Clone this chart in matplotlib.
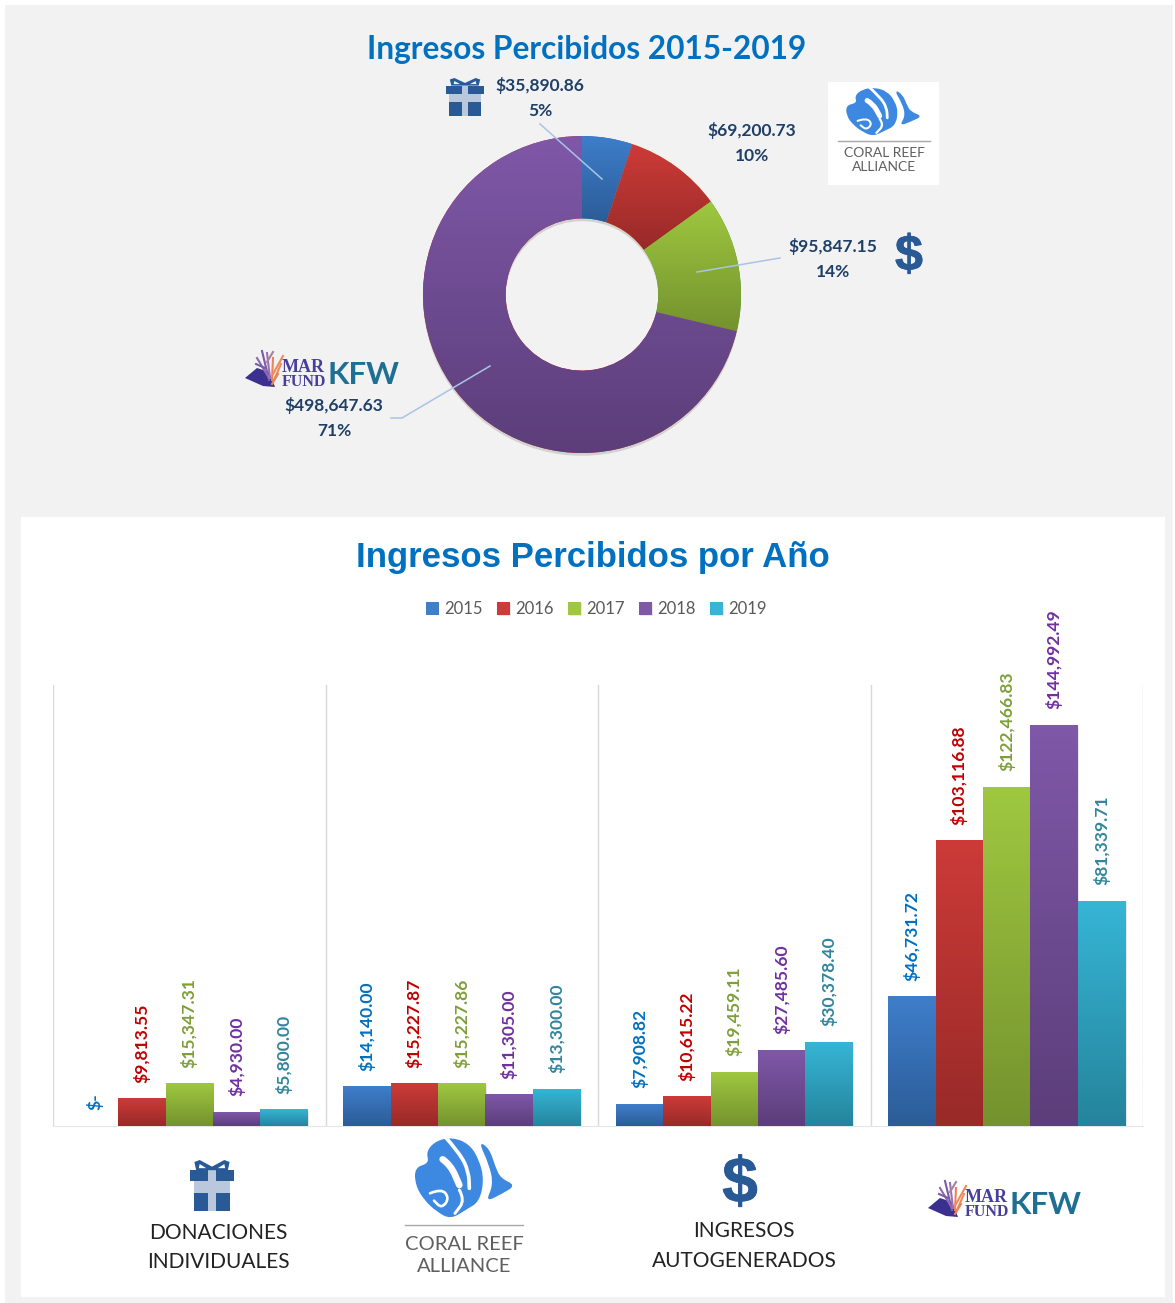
import numpy as np
import matplotlib
matplotlib.use('Agg')
import matplotlib.pyplot as plt
import matplotlib.patheffects as pe
from matplotlib.colors import LinearSegmentedColormap
from matplotlib.patches import Rectangle, PathPatch, Polygon
from matplotlib.path import Path

W, H = 1175, 1303

# Data
years = ['2015', '2016', '2017', '2018', '2019']
donaciones = [0, 9813.55, 15347.31, 4930.00, 5800.00]
coral_reef = [14140.00, 15227.87, 15227.86, 11305.00, 13300.00]
autogenerados = [7908.82, 10615.22, 19459.11, 27485.60, 30378.40]
marfund_kfw = [46731.72, 103116.88, 122466.83, 144992.49, 81339.71]
totales = [35890.86, 69200.73, 95847.15, 498647.63]

title_top = 'Ingresos Percibidos 2015-2019'
title_bottom = 'Ingresos Percibidos por Año'

# Colors
tops = ['#3f7ecb', '#cc3b38', '#9fc840', '#7f58a8', '#36b5d5']
bottoms = ['#2b5c97', '#982a28', '#74922e', '#5c3e7a', '#25849c']
label_colors = ['#0070c0', '#c00000', '#7f9f3a', '#7030a0', '#31859c']
pie_tops = ['#3f7ecb', '#cc3b38', '#9fc840', '#7f58a8']
pie_bottoms = ['#2b5c97', '#982a28', '#74922e', '#5c3e7a']
icon_blue = '#2a5a96'
fish_blue = '#3d88e0'
text_blue = '#0070c0'
pie_text = '#1f3f66'


def px_axes(x0, y0, x1, y1, **kw):
    return fig.add_axes([x0/W, 1 - y1/H, (x1-x0)/W, (y1-y0)/H], **kw)


def overlay():
    a = px_axes(0, 0, W, H)
    a.set_xlim(0, W)
    a.set_ylim(H, 0)
    a.axis('off')
    a.patch.set_alpha(0)
    return a


def gradient(ax, top, bottom, x0, x1, y0, y1, clip=None, z=3):
    cmap = LinearSegmentedColormap.from_list('g', [bottom, top])
    im = ax.imshow(np.linspace(1, 0, 128).reshape(-1, 1), cmap=cmap, vmin=0, vmax=1,
                   extent=[x0, x1, y0, y1], aspect='auto', zorder=z)
    if clip is not None:
        im.set_clip_path(clip)


def smooth(points, closed=True):
    # curve through the midpoints of the points
    pts = np.array(points, dtype=float)
    if closed:
        mids = (pts + np.roll(pts, -1, axis=0))/2
        verts = [mids[-1]]
        codes = [Path.MOVETO]
        for p, m in zip(pts, mids):
            verts += [p, m]
            codes += [Path.CURVE3, Path.CURVE3]
        return Path(verts, codes)
    verts = [pts[0]]
    codes = [Path.MOVETO]
    for p, q in zip(pts[1:-1], pts[2:]):
        verts += [p, (p+q)/2]
        codes += [Path.CURVE3, Path.CURVE3]
    verts.append(pts[-1])
    codes.append(Path.LINETO)
    return Path(verts, codes)


def draw_fish(x, y, w, h, bg='white'):
    # outline drawn on a 330 x 276 grid
    def conv(points):
        return [(x + px*w/330, y + py*h/276) for px, py in points]
    body = [(14, 112), (58, 100), (48, 65), (78, 32), (128, 22), (178, 42), (208, 90), (222, 150),
            (208, 215), (170, 238), (122, 268), (80, 245), (42, 210), (16, 165)]
    tail = [(205, 34), (238, 55), (256, 110), (272, 145), (318, 166), (275, 192), (226, 216),
            (250, 165), (238, 105)]
    over.add_patch(PathPatch(smooth(conv(body)), fc=fish_blue, ec='none'))
    over.add_patch(PathPatch(smooth(conv(tail)), fc=fish_blue, ec='none'))
    grooves = [([(98, 88), (122, 105), (148, 165)], 20),
               ([(100, 14), (150, 70), (176, 125), (178, 175)], 11),
               ([(148, 180), (165, 210), (135, 250)], 9),
               ([(60, 190), (95, 175), (118, 205), (95, 235), (72, 212)], 8)]
    for line, width in grooves:
        over.add_patch(PathPatch(smooth(conv(line), closed=False), fc='none', ec=bg,
                                 lw=width*w/330*0.72, capstyle='round'))


def draw_coral_text(cx, y_line, half, y1, y2, size):
    over.plot([cx-half, cx+half], [y_line, y_line], color='#a8a8a8', lw=1)
    over.text(cx, y1, 'CORAL REEF', color='#5f5f5f', fontsize=size, ha='center', va='center', family='Lato')
    over.text(cx, y2, 'ALLIANCE', color='#5f5f5f', fontsize=size, ha='center', va='center', family='Lato')


def draw_gift(x, y, w, h, bg):
    def r(a, b, c, d, col):
        over.add_patch(Rectangle((x+a*w, y+b*h), (c-a)*w, (d-b)*h, fc=col, ec='none'))
    light = '#b9c8dd'
    r(0.09, 0.42, 0.91, 1.0, light)
    r(0.0, 0.2, 1.0, 0.42, icon_blue)
    r(0.09, 0.64, 0.42, 1.0, icon_blue)
    r(0.58, 0.64, 0.91, 1.0, icon_blue)
    r(0.42, 0.2, 0.58, 1.0, light)
    for sx in (0, 1):
        loop = [(0.5, 0.2), (0.14, 0.2), (0.1, 0.04), (0.22, 0.0), (0.5, 0.13)]
        hole = [(0.2, 0.16), (0.22, 0.08), (0.37, 0.16)]
        for pts, col in ((loop, icon_blue), (hole, bg)):
            pts = [((1-px) if sx else px, py) for px, py in pts]
            over.add_patch(Polygon([(x+px*w, y+py*h) for px, py in pts], fc=col, ec='none'))


def draw_marfund(x, y):
    # logo is about 153 x 40 px
    over.add_patch(Polygon([(x, y+28), (x+12, y+18), (x+24, y+22), (x+30, y+37), (x+18, y+36)],
                           fc='#3b2f8f', ec='none'))
    branches = [(24, 30, 17, 1, '#7b5ba6'), (24, 28, 12, 8, '#8a6bb0'), (25, 28, 22, 3, '#a06fb0'),
                (27, 30, 28, 8, '#e8835a'), (28, 24, 38, 6, '#ef8a5a'), (29, 30, 36, 14, '#ef8a5a'),
                (27, 34, 33, 24, '#e8835a'), (20, 18, 11, 14, '#7b5ba6'), (22, 12, 28, 2, '#a8809f')]
    for a, b, c, d, col in branches:
        over.plot([x+a, x+c], [y+b, y+d], color=col, lw=1.5)
    over.text(x+37, y+17, 'MAR', color='#463f9c', fontsize=13, family='Liberation Serif', weight='bold',
              ha='left', va='center')
    over.text(x+37, y+32, 'FUND', color='#463f9c', fontsize=11.5, family='Liberation Serif', weight='bold',
              ha='left', va='center')
    over.text(x+118, y+25, 'KFW', color='#1f6f95', fontsize=22.5, family='Lato', weight='bold',
              ha='center', va='center')


fig = plt.figure(figsize=(W/100, H/100), dpi=100, facecolor='white')

# Background panels and overlay in pixel coordinates
over = overlay()
over.add_patch(Rectangle((5, 5), 1168, 1298, fc='#f2f2f2', ec='none'))
over.add_patch(Rectangle((21, 517), 1144, 780, fc='white', ec='none'))
over.add_patch(Rectangle((828, 82), 111, 103, fc='white', ec='none'))

over.text(587, 50, title_top, color=text_blue, fontsize=22.8, family='Lato', weight='bold',
          ha='center', va='center')
over.text(593, 558, title_bottom, color=text_blue, fontsize=25, family='Liberation Sans', weight='bold',
          ha='center', va='center')

# Donut
ax_pie = px_axes(423, 136, 741, 453)
ax_pie.patch.set_alpha(0)
wedges, _ = ax_pie.pie(totales, startangle=90, counterclock=False, radius=1,
                       wedgeprops=dict(width=0.52, edgecolor='none'))
for wdg, c1, c2 in zip(wedges, pie_tops, pie_bottoms):
    wdg.set_path_effects([pe.SimplePatchShadow(offset=(0, -2), alpha=0.18, shadow_rgbFace='#444444'), pe.Normal()])
    ext = wdg.get_path().get_extents()
    gradient(ax_pie, c1, c2, ext.x0, ext.x1, ext.y0, ext.y1, clip=wdg)
ax_pie.set_xlim(-1, 1)
ax_pie.set_ylim(-1, 1)
ax_pie.axis('off')

# Donut labels
over = overlay()
total = sum(totales)
label_pos = [(540, 98), (752, 143), (833, 259), (334, 418)]
for val, (lx, ly) in zip(totales, label_pos):
    over.text(lx, ly, f'${val:,.2f}\n{val/total*100:.0f}%', color=pie_text, fontsize=12.5, family='Lato',
              weight='bold', ha='center', va='center', linespacing=1.72, zorder=6)
leaders = [[(540, 124), (602, 179)], [(780, 258), (697, 272)], [(391, 418), (402, 418), (490, 366)]]
for seg in leaders:
    xs, ys = zip(*seg)
    over.plot(xs, ys, color='#a9c4e4', lw=1.1)

# Bars
ax = px_axes(53, 685, 1143, 1126)
ax.patch.set_alpha(0)
groups = [donaciones, coral_reef, autogenerados, marfund_kfw]
bar_w = 0.174
for i, year in enumerate(years):
    vals = [g[i] for g in groups]
    xpos = np.arange(4) + (i-2)*bar_w
    bars = ax.bar(xpos, vals, bar_w, color=tops[i], label=year, zorder=2)
    for b, v in zip(bars, vals):
        if v > 0:
            b.set_path_effects([pe.SimplePatchShadow(offset=(1, -1), alpha=0.15, shadow_rgbFace='#666666'), pe.Normal()])
            gradient(ax, tops[i], bottoms[i], b.get_x(), b.get_x()+b.get_width(), 0, v)
        txt = f'${v:,.2f}' if v > 0 else '$-'
        ax.annotate(txt, xy=(b.get_x()+b.get_width()/2, v), xytext=(0, 11.5),
                    textcoords='offset points', rotation=90, ha='center', va='bottom',
                    color=label_colors[i], fontsize=12.6, family='Lato', weight='bold')
ax.set_xlim(-0.5, 3.5)
ax.set_ylim(0, 159500)
ax.set_xticks([-0.5, 0.5, 1.5, 2.5, 3.5])
ax.set_xticklabels([])
ax.set_yticks([])
ax.tick_params(length=0)
ax.grid(axis='x', color='#d9d9d9', lw=1, zorder=0)
for s in ['top', 'left', 'right']:
    ax.spines[s].set_visible(False)
ax.spines['bottom'].set_color('#e6e6e6')

leg = ax.legend(loc='center', bbox_to_anchor=(596/W, 1-609/H), bbox_transform=fig.transFigure, ncol=5,
                frameon=False, handlelength=0.8, handleheight=0.8, handletextpad=0.3, columnspacing=0.85,
                prop={'family': 'Lato', 'size': 12}, labelcolor='#595959')

# Category labels
over = overlay()
over.text(218, 1247.5, 'DONACIONES\nINDIVIDUALES', color='#222222', fontsize=15, family='Lato',
          ha='center', va='center', linespacing=1.6)
over.text(744, 1246, 'INGRESOS\nAUTOGENERADOS', color='#222222', fontsize=15, family='Lato',
          ha='center', va='center', linespacing=1.6)

# Logos and icons
draw_gift(446, 78, 38, 38, '#f2f2f2')
draw_gift(190, 1160, 44, 51, 'white')
dollar_fx = [pe.withStroke(linewidth=0.6, foreground=icon_blue)]
over.text(909, 257, '$', color=icon_blue, fontsize=36, family='Liberation Sans', weight='bold',
          ha='center', va='center', path_effects=dollar_fx)
over.text(740, 1185, '$', color=icon_blue, fontsize=46, family='Liberation Sans', weight='bold',
          ha='center', va='center', path_effects=dollar_fx)
draw_fish(842.5, 83, 83, 55)
draw_coral_text(884, 141, 46, 153, 167, 10)
draw_fish(410, 1130, 110, 92)
draw_coral_text(464, 1225, 59, 1244, 1266, 14.5)
draw_marfund(245, 350)
draw_marfund(928, 1180)

plt.savefig('out.png', dpi=100, facecolor='white')
